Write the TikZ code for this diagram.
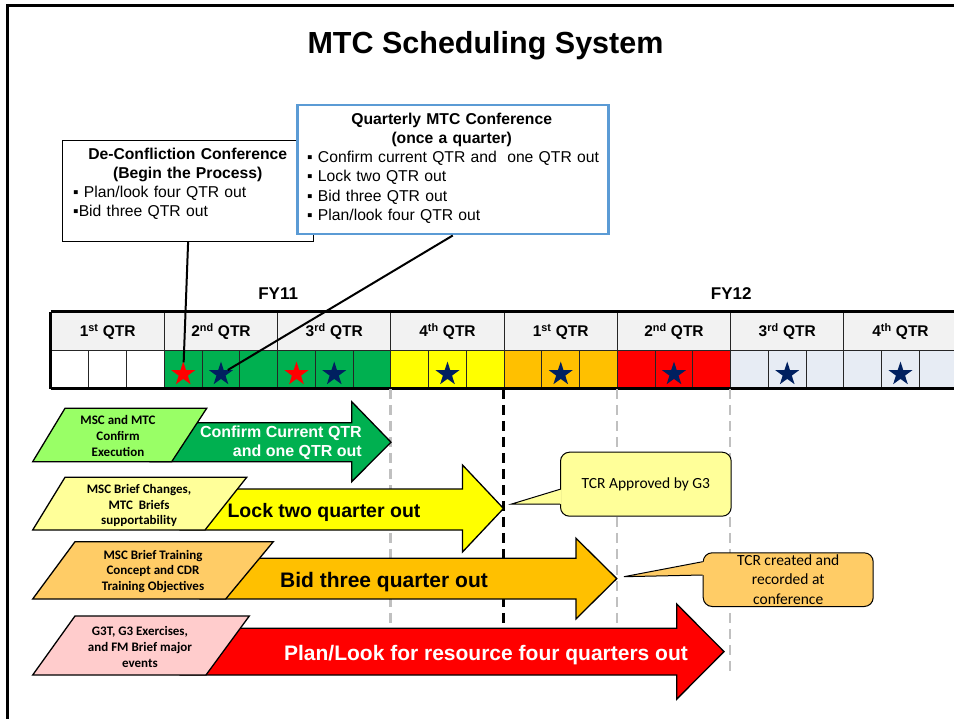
\documentclass[tikz,border=0pt]{standalone}
\usepackage{fontspec}
\setmainfont{Liberation Sans}
\newfontfamily\calib{Carlito}
\usetikzlibrary{shapes.geometric}
\definecolor{hdrgray}{HTML}{F2F2F2}
\definecolor{mgreen}{HTML}{00B050}
\definecolor{myellow}{HTML}{FFFF00}
\definecolor{morange}{HTML}{FFC000}
\definecolor{mred}{HTML}{FF0000}
\definecolor{mpale}{HTML}{E7ECF4}
\definecolor{navy}{HTML}{002060}
\definecolor{boxblue}{HTML}{5B9BD5}
\definecolor{lgreen}{HTML}{99FF66}
\definecolor{lyellow}{HTML}{FFFF99}
\definecolor{lorange}{HTML}{FFCC66}
\definecolor{lpink}{HTML}{FFCCCC}
\definecolor{dashgray}{HTML}{C0C0C0}
\tikzstyle{hdr} = [draw=black!85, line width=1.2pt, fill=hdrgray, anchor=north west, inner sep=0pt, minimum width=113.25pt, minimum height=38.6pt, font=\bfseries\fontsize{15.5}{18}\selectfont]
\tikzstyle{month} = [draw=black!85, line width=1.2pt, anchor=north west, inner sep=0pt, minimum width=37.75pt, minimum height=37.4pt]
\tikzstyle{qstar} = [star, star points=5, star point ratio=2.6, minimum size=25pt, inner sep=0pt]
\tikzstyle{infobox} = [draw, fill=white, anchor=north west, inner sep=0pt]
\tikzstyle{infotext} = [anchor=north west, inner sep=0pt, align=left, font=\fontsize{15.7}{19.3}\selectfont]
\tikzstyle{para} = [draw, line width=1.3pt]
\tikzstyle{bigarrow} = [draw, line width=1.3pt]
\tikzstyle{paratext} = [align=center, inner sep=0pt, font=\calib\bfseries\fontsize{13}{15.8}\selectfont]
\tikzstyle{tcrbox} = [draw, line width=1pt, rounded corners=9pt, anchor=north west, inner sep=0pt, align=center, font=\calib\fontsize{15.5}{19.3}\selectfont]
\tikzstyle{pointer} = [line width=1pt, line join=miter]
\tikzstyle{gline} = [dashgray, line width=2.5pt, dash pattern=on 10pt off 6pt]
\tikzstyle{kline} = [black, line width=2.5pt, dash pattern=on 10pt off 6pt]
\tikzstyle{link} = [line width=2pt]

\begin{document}
\begin{tikzpicture}[x=1pt, y=-1pt]
\useasboundingbox (0,0) rectangle (954,719);
\draw[line width=2.5pt] (7.5,730) -- (7.5,5.7) -- (970,5.7);
\node[anchor=base, font=\bfseries\fontsize{30.5}{36}\selectfont] (title) at (485.5,53.7) {MTC Scheduling System};

\foreach \q/\sfx/\col [count=\i from 0] in {1/st/white, 2/nd/mgreen, 3/rd/mgreen, 4/th/myellow, 1/st/morange, 2/nd/mred, 3/rd/mpale, 4/th/mpale}{
  \node[hdr] (h-\i) at ({50.5+113.25*\i},311.7) {\q\textsuperscript{\sfx} QTR};
  \foreach \j in {0,1,2}
    \node[month, fill=\col] (c-\i-\j) at ({50.5+113.25*\i+37.75*\j},350.3) {};
}
\foreach \i/\j/\col in {1/0/mred, 1/1/navy, 2/0/mred, 2/1/navy, 3/1/navy, 4/1/navy, 5/1/navy, 6/1/navy, 7/1/navy}
  \node[qstar, fill=\col] (s-\i-\j) at ([yshift=-4.5pt]c-\i-\j.center) {};
\draw[line width=3pt] (h-0.north west) -- (h-7.north east);
\draw[line width=3pt] (c-0-0.south west) -- (c-7-2.south east);
\draw[line width=3pt] (h-0.north west) -- (c-0-0.south west);
\node[anchor=base, font=\bfseries\fontsize{17}{20}\selectfont] (fy11) at ([yshift=11.7pt]h-1.north east) {FY11};
\node[anchor=base, font=\bfseries\fontsize{17}{20}\selectfont] (fy12) at ([yshift=11.7pt]h-5.north east) {FY12};

\draw[gline] (c-3-0.south west) -- ++(0,282);
\draw[kline] (c-4-0.south west) -- ++(0,282);
\draw[gline] (c-5-0.south west) -- ++(0,282);
\draw[gline] (c-6-0.south west) -- ++(0,282);

\node[infobox, line width=1.2pt, minimum width=251pt, minimum height=101pt] (dcbox) at (62,140) {};
\node[infotext, text width=229pt] (dctext) at (73,147.5) {{\centering\bfseries De-Confliction Conference\\(Begin the Process)\par}▪ Plan/look four QTR out\\▪Bid three QTR out};
\node[infobox, draw=boxblue, line width=2.5pt, minimum width=311pt, minimum height=129pt] (qbox) at (296,104) {};
\node[infotext, text width=289pt] (qtext) at (307,112.5) {{\centering\bfseries Quarterly MTC Conference\\(once a quarter)\par}\mbox{▪ Confirm current QTR and \ one QTR out}\\▪ Lock two QTR out\\▪ Bid three QTR out\\▪ Plan/look four QTR out};
\draw[link] (dcbox.south) -- (s-1-0);
\draw[link] (qbox.south) -- (s-1-1);

\draw[bigarrow, fill=mgreen] (150,422.7) -- (351.7,422.7) -- (351.7,401.7) -- (391,442.2) -- (351.7,481.7) -- (351.7,461.7) -- (150,461.7) -- cycle;
\draw[bigarrow, fill=myellow] (180,489) -- (462.5,489) -- (462.5,465) -- (503.5,508.5) -- (462.5,552) -- (462.5,530) -- (180,530) -- cycle;
\draw[bigarrow, fill=morange] (200,558.3) -- (576,558.3) -- (576,538.3) -- (616.75,578.6) -- (576,618.9) -- (576,599) -- (200,599) -- cycle;
\draw[bigarrow, fill=mred] (180,628.3) -- (676.7,628.3) -- (676.7,604) -- (724,651.6) -- (676.7,699.2) -- (676.7,675) -- (180,675) -- cycle;

\draw[para, fill=lgreen] (65,408.3) -- (206.7,408.3) -- (171.7,461.7) -- (32.7,461.7) -- cycle;
\draw[para, fill=lyellow] (65,477.3) -- (246.7,477.3) -- (205,530) -- (32.7,530) -- cycle;
\draw[para, fill=lorange] (75,541.7) -- (273.3,541.7) -- (225.7,599) -- (32.7,599) -- cycle;
\draw[para, fill=lpink] (75,616) -- (249.3,616) -- (206,675) -- (32.7,675) -- cycle;
\node[paratext] (pgreen) at (118,436) {MSC and MTC\\Confirm\\Execution};
\node[paratext] (pyellow) at (139,505.5) {MSC Brief Changes,\\MTC \ Briefs\\supportability};
\node[paratext] (porange) at (153,571.5) {MSC Brief Training\\Concept and CDR\\Training Objectives};
\node[paratext] (ppink) at (140,647) {G3T, G3 Exercises,\\and FM Brief major\\events};

\node[anchor=east, align=right, inner sep=0pt, text=white, font=\bfseries\fontsize{16}{19}\selectfont] (tgreen) at (362,443) {Confirm Current QTR\\and one QTR out};
\node[anchor=base, font=\bfseries\fontsize{19.5}{22}\selectfont] (tyellow) at (324,517) {Lock two quarter out};
\node[anchor=base, font=\bfseries\fontsize{21}{24}\selectfont] (torange) at (384,587.5) {Bid three quarter out};
\node[anchor=base, text=white, font=\bfseries\fontsize{21}{24}\selectfont] (tred) at (486,660.5) {Plan/Look for resource four quarters out};

\node[tcrbox, fill=lyellow, minimum width=170.7pt, minimum height=64pt] (tcrok) at (560,451.7) {TCR Approved by G3};
\coordinate (okTip) at (511.7,504);
\fill[lyellow] ([yshift=-0.3pt]tcrok.west |- 0,489.3) ++(1.5,0) -- (okTip) -- ([xshift=1.5pt]tcrok.west |- 0,504) -- cycle;
\draw[pointer] (tcrok.west |- 0,489.3) -- (okTip) -- (tcrok.west |- 0,504);
\node[tcrbox, fill=lorange, minimum width=170pt, minimum height=53.7pt] (tcrnew) at (702.7,552.3) {TCR created and\\recorded at\\conference};
\coordinate (newTip) at (624,576.7);
\fill[lorange] ([xshift=1.5pt]tcrnew.west |- 0,561.7) -- (newTip) -- ([xshift=1.5pt]tcrnew.west |- 0,575) -- cycle;
\draw[pointer] (tcrnew.west |- 0,561.7) -- (newTip) -- (tcrnew.west |- 0,575);
\end{tikzpicture}
\end{document}
